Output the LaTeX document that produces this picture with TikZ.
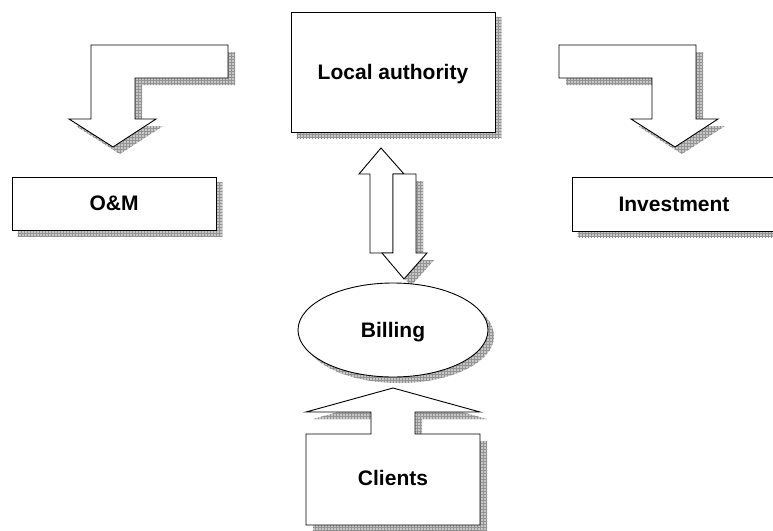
\documentclass[tikz,border=0pt]{standalone}
\usepackage{fontspec}
\setmainfont{Liberation Sans}
\usetikzlibrary{patterns,shapes.geometric}
\pgfdeclarelayer{bg}
\pgfsetlayers{bg,main}

% outlines of the block arrows (pixel grid, y pointing down)
\newcommand\bendleft{(91,45) -- (228,45) -- (228,78) -- (135,78) -- (135,119) -- (156,119) -- (113,147) -- (69,119) -- (91,119) -- cycle}
\newcommand\bendright{(696,45) -- (559,45) -- (559,78) -- (652,78) -- (652,119) -- (631,119) -- (675,147) -- (718,119) -- (696,119) -- cycle}
\newcommand\uparr{(381,148) -- (404,174) -- (393,174) -- (393,253) -- (370,253) -- (370,174) -- (359,174) -- cycle}
\newcommand\downarr{(393,174) -- (416,174) -- (416,253) -- (427,253) -- (404,279) -- (382,253) -- (393,253) -- cycle}
\newcommand\clientshape{(393,388) -- (480,412) -- (415,412) -- (415,434) -- (480,434) -- (480,525) -- (306,525) -- (306,434) -- (371,434) -- (371,412) -- (306,412) -- cycle}

\begin{document}
\begin{tikzpicture}[x=1pt,y=-1pt,
  outline/.style={draw=black,fill=white,line width=0.9pt},
  shadowfill/.style={fill=black!22,postaction={pattern=grid,pattern color=black!42}},
  labelfont/.style={font=\fontsize{21}{24}\selectfont\bfseries,text depth=0pt},
  box/.style={outline,rectangle,inner sep=0pt,labelfont},
  label/.style={labelfont,inner sep=0pt}]
\useasboundingbox (0,0) rectangle (773,530);

% text boxes
\node[box,minimum width=204pt,minimum height=53pt] (om) at (114,203.5) {O\&M};
\node[box,minimum width=204pt,minimum height=120pt] (la) at (393,72) {Local authority};
\node[box,minimum width=204pt,minimum height=54pt] (inv) at (674,204) {Investment};

% block arrows
\draw[outline] \bendleft;
\draw[outline] \bendright;
\draw[outline] \uparr;
\draw[outline] \downarr;

% billing ellipse
\node[outline,ellipse,minimum width=190pt,minimum height=94pt,inner sep=0pt,labelfont] (bill) at (393,330) {Billing};

% clients box with its arrow
\draw[outline] \clientshape;
\node[label] (cl) at (393,478) {Clients};

% drop shadows behind everything
\begin{pgfonlayer}{bg}
  \foreach \n in {om,la,inv}
    \path[shadowfill] ([shift={(6,6)}]\n.south west) rectangle ([shift={(6,6)}]\n.north east);
  \path[shadowfill] ([shift={(6,6)}]bill.center) ellipse [x radius=95pt,y radius=47pt];
  \begin{scope}[shift={(7,7)}]
    \path[shadowfill] \bendleft;
    \path[shadowfill] \bendright;
    \path[shadowfill] \downarr;
    \path[shadowfill] \clientshape;
  \end{scope}
\end{pgfonlayer}
\end{tikzpicture}
\end{document}
